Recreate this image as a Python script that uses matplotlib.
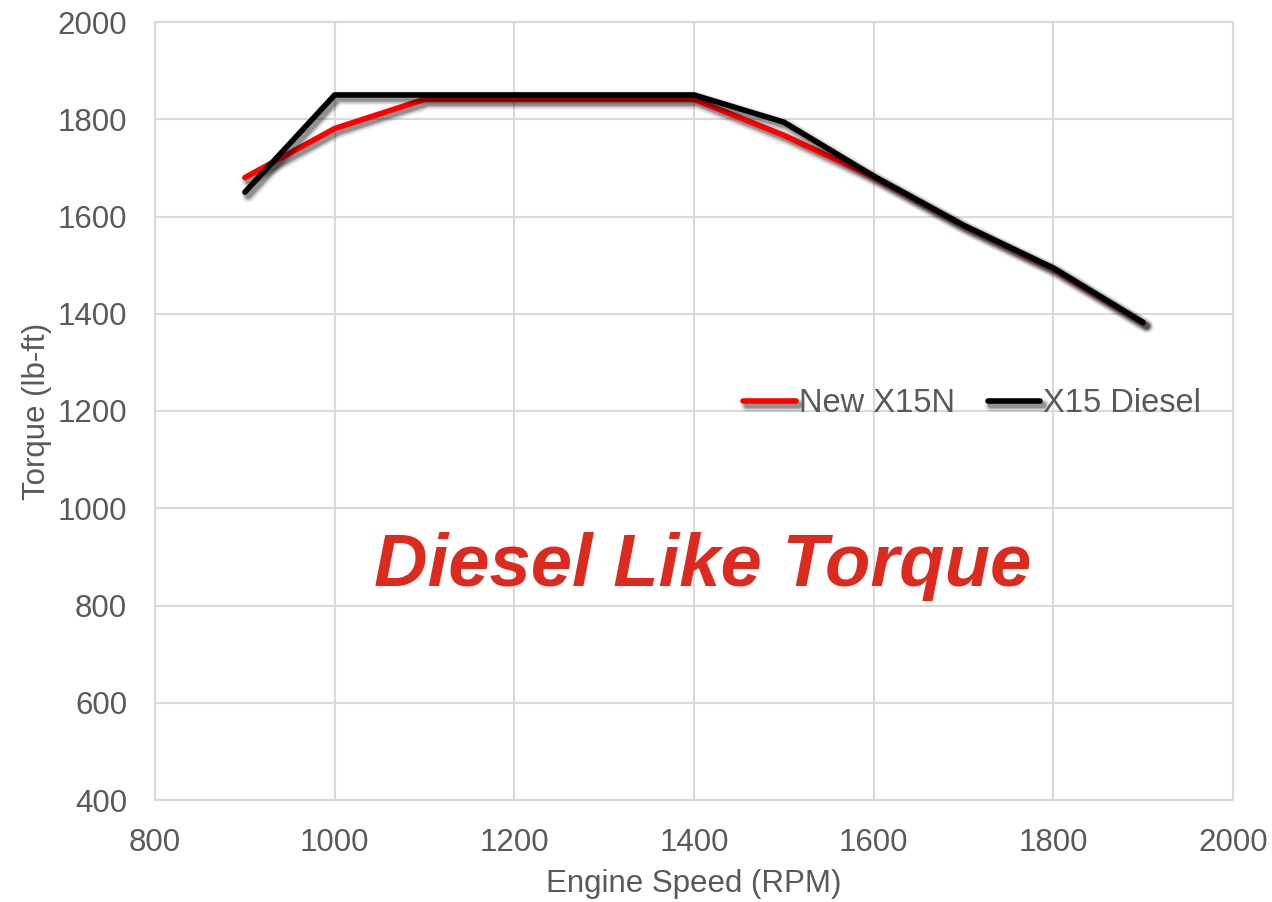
import matplotlib
matplotlib.use("Agg")
import matplotlib.pyplot as plt
import matplotlib.patheffects as pe

plt.rcParams['font.family'] = ['Liberation Sans', 'DejaVu Sans']

rpm = [900, 1000, 1100, 1200, 1300, 1400, 1500, 1600, 1700, 1800, 1900]
x15n = [1680, 1781, 1841, 1841, 1841, 1841, 1767, 1681, 1581, 1492, 1381]
x15_diesel = [1650, 1850, 1850, 1850, 1850, 1850, 1794, 1683, 1582, 1494, 1382]

xticks = [800, 1000, 1200, 1400, 1600, 1800, 2000]
yticks = [400, 600, 800, 1000, 1200, 1400, 1600, 1800, 2000]

grey = '#595959'
gridc = '#D9D9D9'

# fake the soft drop shadow with a few stacked shadows
shadow = [pe.SimpleLineShadow(offset=(2.5, -2.5), shadow_color='black', alpha=a, linewidth=w)
          for w, a in [(10, 0.06), (8, 0.1), (6, 0.15), (4.5, 0.2)]] + [pe.Normal()]

fig = plt.figure(figsize=(12.72, 9.02), dpi=100)
ax = fig.add_axes([155/1272, 102/902, 1078/1272, 778/902])

ax.plot(rpm, x15n, color='#FF0000', lw=4, solid_capstyle='round', label='New X15N', path_effects=shadow)
ax.plot(rpm, x15_diesel, color='black', lw=4, solid_capstyle='round', label='X15 Diesel', path_effects=shadow)

ax.set_xlim(800, 2000)
ax.set_ylim(400, 2000)
ax.set_xticks(xticks)
ax.set_yticks(yticks)
ax.grid(True, color=gridc, lw=1.5)
ax.set_axisbelow(True)
for s in ax.spines.values():
    s.set_color(gridc)
    s.set_linewidth(1.5)
ax.tick_params(length=0, labelsize=22.5, colors=grey)
ax.tick_params(axis='y', pad=20)
ax.tick_params(axis='x', pad=20)

ax.set_xlabel('Engine Speed (RPM)', fontsize=22.5, color=grey, labelpad=8)
ax.set_ylabel('Torque (lb-ft)', fontsize=22.5, color=grey, labelpad=4)

leg = ax.legend(loc='center', bbox_to_anchor=(0.758, 0.509), ncol=2, frameon=False,
                fontsize=23.5, handlelength=1.6, handletextpad=0.1, columnspacing=1.0)
for t in leg.get_texts():
    t.set_color(grey)

ax.text(1410, 880, 'Diesel Like Torque', fontsize=53.5, color='#DC2A1E', fontweight='bold',
        fontstyle='italic', ha='center', va='center')

fig.savefig('out.png', dpi=100)
